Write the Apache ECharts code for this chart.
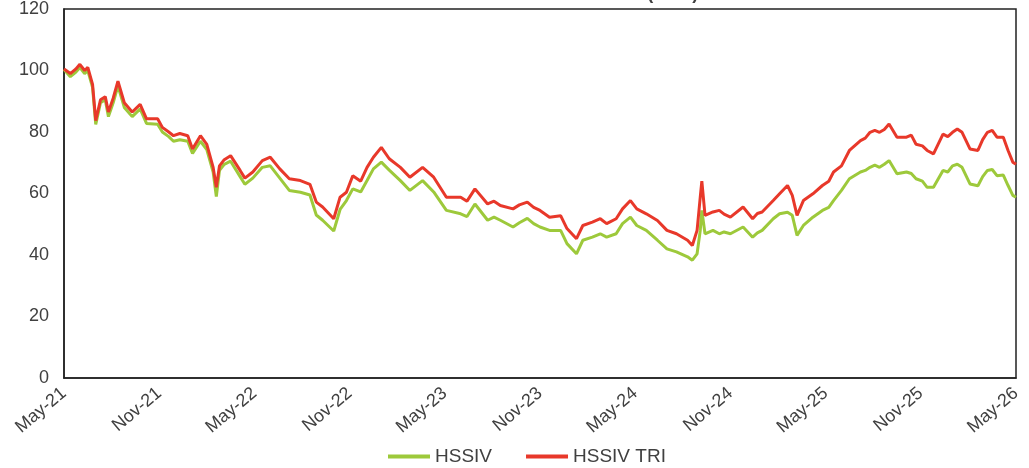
<!DOCTYPE html>
<html>
<head>
<meta charset="utf-8">
<script src="https://cdn.jsdelivr.net/npm/echarts@6/dist/echarts.min.js"></script>
<style>html,body{margin:0;padding:0;background:#fff}#c{width:1029px;height:468px}</style>
</head>
<body>
<div id="c"></div>
<script>
var titleText = 'HSSIV and HSSIV Total Return Index (HKD)';
var tickLabels = ['May-21','Nov-21','May-22','Nov-22','May-23','Nov-23','May-24','Nov-24','May-25','Nov-25','May-26'];
var months = [0,0.4,0.75,1.0,1.3,1.5,1.8,2.0,2.3,2.6,2.8,3.1,3.4,3.8,4.3,4.8,5.2,5.9,6.2,6.6,6.9,7.3,7.8,8.1,8.6,9.0,9.4,9.6,9.8,10.1,10.5,11.1,11.4,11.9,12.5,13.0,13.6,14.2,14.9,15.5,15.9,16.3,17.0,17.4,17.8,18.2,18.7,19.1,19.5,20.0,20.5,21.2,21.8,22.6,23.3,24.1,25.0,25.4,25.9,26.7,27.1,27.5,28.3,28.7,29.2,29.6,30.0,30.6,31.3,31.7,32.3,32.7,33.3,33.8,34.2,34.8,35.2,35.7,36.1,36.7,37.4,38.0,38.6,39.3,39.6,39.9,40.1,40.2,40.4,40.9,41.3,41.6,42.0,42.8,43.4,43.7,44.0,44.7,45.1,45.6,45.9,46.2,46.6,47.2,47.8,48.2,48.5,49.0,49.5,50.2,50.5,50.8,51.1,51.4,51.7,52.0,52.5,53.1,53.4,53.7,54.1,54.4,54.8,55.4,55.7,56.0,56.3,56.6,57.1,57.6,57.9,58.2,58.5,58.8,59.2,59.5,59.8,60.0];
var hssiv = [100.3,98,99.5,101,99,100,94.5,82.5,89.5,90.5,85,89.5,95,88,85,87.5,82.8,82.5,80,78.5,77,77.5,77,73,77,74.3,67,59,67.5,69.5,70.5,65.5,63,65,68.5,69,65,61,60.4,59.5,53,51.3,47.8,54.8,57.7,61.5,60.5,64.2,68,70.2,67.6,64.2,61,64.2,60.5,54.5,53.4,52.5,56.6,51.3,52.3,51.3,49.1,50.5,51.9,50.2,49.1,48,48,43.7,40.4,44.8,45.8,46.9,45.8,46.9,50.2,52.3,49.6,48,44.8,42,41,39.4,38.3,40.4,48,54.5,46.9,48,46.9,47.5,46.9,49.1,45.8,47.2,48,51.8,53.4,53.9,52.9,46.4,49.6,52.3,54.5,55.5,57.7,61,64.8,67,67.5,68.5,69.2,68.5,69.5,70.7,66.4,67,66.5,64.8,64,62,62,67.5,67,69,69.5,68.5,63.1,62.5,65.5,67.5,67.8,65.8,66,62.6,59.4,58.8];
var hssivTri = [100.5,99,100.5,102,100,101,95.5,83.7,90.5,91.5,86.5,91,96.5,89.5,86.5,89,84.3,84.3,81.5,80,78.8,79.5,78.8,74.5,78.8,76,68.5,62,69,71,72.3,67.5,65,67,70.7,71.8,68,64.8,64.2,63,57.2,55.6,51.8,58.8,60.4,65.8,64,68.5,71.8,75,71.3,68.5,65.3,68.5,65.3,58.8,58.8,57.5,61.5,56.6,57.5,56.1,55,56.3,57.2,55.5,54.5,52.3,52.8,48.6,45.3,49.6,50.7,51.8,50.2,51.8,55,57.7,55,53.4,51.2,48,46.9,44.8,43.1,48,58.8,64,52.9,54,54.5,53.3,52.3,55.6,51.8,53.5,54,57.7,59.9,62.6,59.4,52.9,57.7,59.9,62.6,64,67,69,74,77.2,78,79.9,80.5,79.9,80.8,82.6,78.3,78.3,79,76,75.5,74,72.9,79.3,78.5,79.9,81,79.9,74.5,74,77.5,79.9,80.5,78.3,78.3,74,70.2,69.5];

function pairs(xs, ys){ return xs.map(function(x,i){ return [x, ys[i]]; }); }

var chart = echarts.init(document.getElementById('c'), null, {renderer:'canvas'});
chart.setOption({
  animation:false,
  backgroundColor:'#fff',
  title:{text:titleText,left:'center',top:-20,textStyle:{fontFamily:'Liberation Sans',fontSize:18,fontWeight:'bold',color:'#404040'}},
  grid:{left:64,right:13,top:8,bottom:90,show:true,borderColor:'#222',borderWidth:1.5,backgroundColor:'transparent'},
  legend:{bottom:-3,left:383,icon:'rect',itemWidth:42,itemHeight:4,itemGap:34,
    textStyle:{fontFamily:'Liberation Sans',fontSize:19,color:'#404040'},
    data:['HSSIV','HSSIV TRI']},
  xAxis:{type:'value',min:0,max:60,interval:6,
    axisLine:{show:true,lineStyle:{color:'#222',width:1.5}},axisTick:{show:false},splitLine:{show:false},
    axisLabel:{rotate:40,margin:13,fontFamily:'Liberation Sans',fontSize:18,color:'#404040',
      formatter:function(v){ return tickLabels[Math.round(v/6)]; }}},
  yAxis:{type:'value',min:0,max:120,interval:20,
    axisLine:{show:true,lineStyle:{color:'#222',width:1.5}},axisTick:{show:false},splitLine:{show:false},
    axisLabel:{margin:15,fontFamily:'Liberation Sans',fontSize:18,color:'#404040'}},
  series:[
    {name:'HSSIV',type:'line',data:pairs(months,hssiv),showSymbol:false,symbol:'none',
      lineStyle:{color:'#9dc93b',width:3},itemStyle:{color:'#9dc93b'}},
    {name:'HSSIV TRI',type:'line',data:pairs(months,hssivTri),showSymbol:false,symbol:'none',
      lineStyle:{color:'#e8382a',width:3},itemStyle:{color:'#e8382a'}}
  ]
});
</script>
</body>
</html>
